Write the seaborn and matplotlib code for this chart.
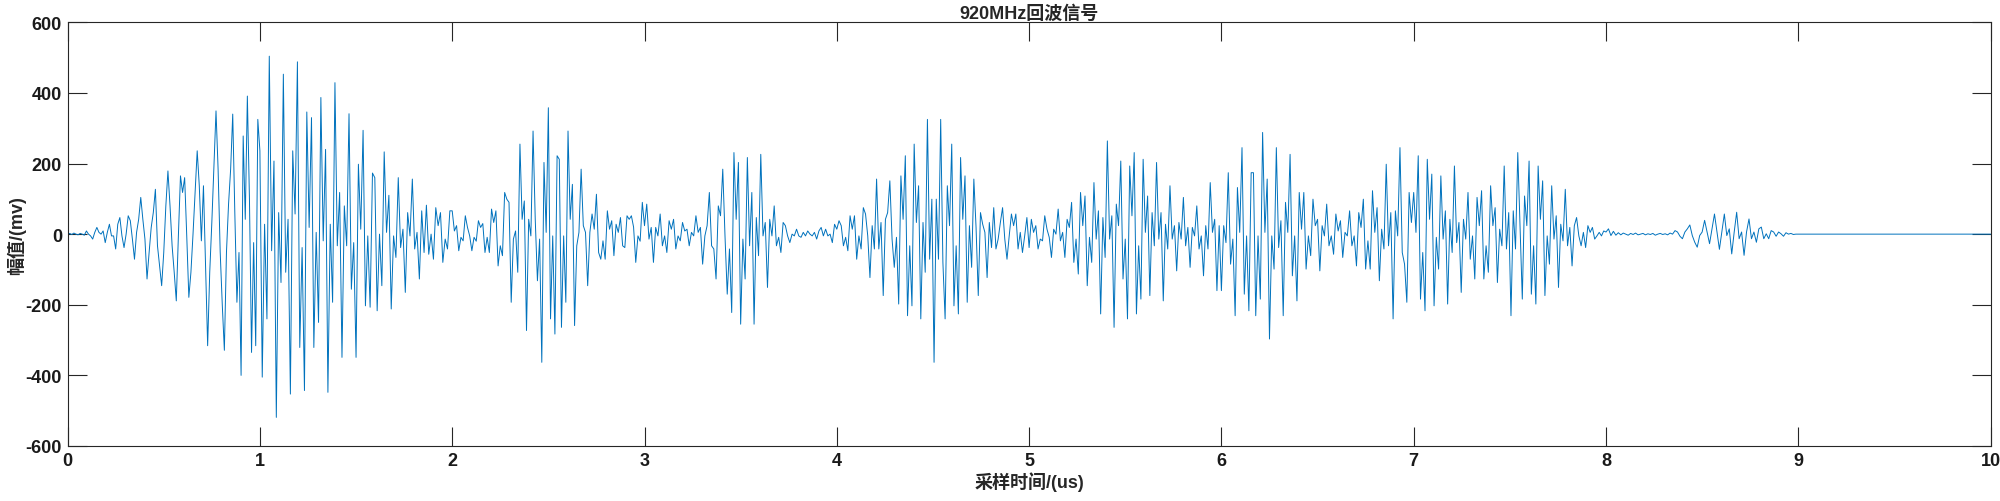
# plot.py
# 920MHz echo signal, redrawn from a MATLAB figure

import numpy as np
import pandas as pd
from matplotlib import pyplot as plt
import seaborn as sns

# samples, one list per microsecond (mV)
seg0 = [0, 2, -1, 3, 0, -2, 2, 0, -3, 9, 0, -5, -14, 5, 19, 5, 0, 9, -24, 5, 28, -5, -5, -42, 28, 47, -5, -38, 0,
        52, 38, -14, -71, 5, 42, 104, 42, -14, -127, -52, 19, 61, 127, -33, -90, -146, -52, 80, 179, 80, -33, -108,
        -189, -5, 165, 118, 160, -5, -179, -108, 0, 118, 236, 137, -19, 137, -90, -316, -108, 33, 193, 349, 184, -50,
        -200, -329, -52, 85, 184, 340, 60, -193, -52, -400, 278, 42, 391, 100, -335, -24, -316, 325]
seg1 = [236, -405, 28, -240, 504, -47, 207, -519, 61, -137, 453, -108, 42, -453, 236, 57, 488, -321, -38, -443, 346,
        19, 330, -321, 5, -250, 387, -19, 240, -448, 28, -193, 429, -33, 118, -349, 80, -33, 341, -156, -24, -349,
        198, 14, 294, -203, -5, -207, 173, 160, -217, 0, -146, 233, 5, 110, -212, -5, -66, 160, -38, 14, -165, 61,
        -5, 156, -42, 5, -127, 66, -52, 82, -57, 0, -71, 75, 24, 61, -80, -14, -42, 66]
seg2 = [66, 9, 24, -47, -9, -19, 52, 19, -5, -47, -9, -20, 38, 19, 30, -52, -9, -52, 71, 33, 66, -90, -33, -61, 118,
        99, 90, -193, -14, 9, -108, 255, 42, 94, -273, 42, -5, 292, 42, -132, -14, -363, 203, 5, 358, -240, -5, -283,
        222, 212, -264, -5, -193, 292, 42, 141, -259, -33, 5, 184, 24, 5, -146, 5, 57, 14, 113, -52, -71, -19, -71,
        66, 14, 38, -61, 28, 5, 47, -33, -38, 52, 42, 52, 20, -80, -5, -20, 90]
seg3 = [24, 85, -14, 19, -80, 19, -5, 57, -33, -5, -52, 38, 14, 42, -42, -5, -19, 33, 9, 14, -33, 5, -5, 52, 5, 19,
        -85, -5, 24, 118, -33, -42, -127, 80, 52, 184, -5, -170, -42, -222, 231, 42, 203, -255, -14, -127, 217, -33,
        118, -255, 47, -61, 226, -5, 33, -151, 42, -5, 80, -33, -9, -52, 33, 24, -5, -24, 0, -5, 14, -5, -9, 5, -5,
        9, 0, -5, 5, -14, 9, 19, -5, 14, -5, 0, -24, 28]
seg4 = [14, 38, 24, -33, -9, -47, 52, 14, 52, -71, -5, -42, 75, 57, -5, -123, 24, -42, 156, -42, 33, -174, 42, 61,
        151, -14, -94, -9, -198, 165, 42, 222, -231, -33, -203, 255, 33, 137, -240, 33, -108, 325, -71, 99, -363, 99,
        -71, 325, -80, -240, 137, 24, 255, -203, -33, -226, 217, 42, 165, -193, 24, -94, 156, 19, -174, 61, 28, 5,
        -123, 33, -38, 75, -42, -14, 33, 75, -14, -71, -5, 57, 24, 57, -42, 5, -52, -5, 47]
seg5 = [-38, 42, 5, 24, -42, -14, -19, 52, 14, -9, -66, 14, 0, 71, -19, 5, -66, 42, 19, 90, -80, -14, -113, 118, 24,
        108, -146, -9, -80, 146, -14, 66, -226, 47, -66, 264, -14, 52, -264, 85, 24, 207, -127, -14, -240, 193, 52,
        231, -226, -33, -184, 212, 5, 108, -174, 61, -33, 203, -14, 61, -189, 28, -42, 137, -14, 24, -104, 33, -14,
        104, -33, 19, -94, 19, -5, 80, -42, -5, -118, 24, -42, 146, 5, 42, -160, 24]
seg6 = [-160, 24, -24, 174, -85, -14, -231, 132, 5, 245, -170, -5, -217, 174, 174, -231, -5, -184, 288, 5, 156, -297,
        -5, -99, 245, -38, 38, -231, 90, 5, 226, -118, -5, -189, 118, 14, 118, -99, -5, -61, 99, 24, 42, -104, 24,
        -5, 85, -33, -5, -57, 57, 9, 38, -66, 5, -5, 66, -33, -5, -90, 61, 19, 99, -99, -19, -99, 123, 5, 75, -132,
        14, -42, 198, -33, 61, -240, 66, -5, 245, -52, -85, -193, 118, 33]
seg7 = [118, 5, 222, -184, -52, -217, 212, 42, 170, -203, -9, -99, 165, -14, 66, -198, 42, -52, 193, -24, 33, -165,
        42, -14, 118, -71, -5, -127, 104, 24, 123, -127, -33, -108, 137, 24, 75, -137, 14, -33, 193, -42, 61, -231,
        66, -42, 231, 24, -184, 108, 24, 207, -170, -33, -198, 193, 42, 151, -174, -5, -85, 137, -14, 52, -151, 28,
        -19, 127, -33, 19, -90, 24, 47, -5, -33, 5, -38, 24, 5, 19, -14, -5, 5, -5, 9]
seg8 = [6, 15, -4, 8, -3, 4, -2, 3, 0, -3, 2, -1, 3, -2, 0, 2, -2, 1, -1, 2, -3, 0, 2, -1, 1, -2, 3, 0, 10, 6, -6,
        -13, 6, 15, 26, -4, -23, -37, -4, 6, 39, 6, -27, 15, 57, 6, -43, 6, 57, -4, 15, -56, 6, 62, -13, 6, -60, 6,
        43, -13, 6, -23, 15, 20, -13, 1, -13, 10, 6, -6, 6, 1, -6, 4, 0, 2, -1, 0]
seg9 = [0, 0]

segments = [seg0, seg1, seg2, seg3, seg4, seg5, seg6, seg7, seg8, seg9]

x_ticks = list(range(0, 11))
y_ticks = list(range(-600, 601, 200))

title = '920MHz回波信号'
x_label = '采样时间/(us)'
y_label = '幅值/(mv)'

# global settings
sns.set_theme(style="ticks")
plt.rcParams['font.family'] = ['Liberation Sans', 'Noto Sans CJK SC', 'DejaVu Sans']
plt.rcParams['font.weight'] = 'bold'
plt.rcParams['axes.unicode_minus'] = False


def build_frame(segments):
    parts = []
    for k, seg in enumerate(segments):
        if k == len(segments) - 1:
            t = np.linspace(k, k + 1, len(seg))
        else:
            t = k + np.arange(len(seg)) / len(seg)
        parts.append(pd.DataFrame({'t': t, 'v': seg}))
    return pd.concat(parts, ignore_index=True)


def plot_signal(data):
    fig = plt.figure(figsize=(20, 5.02), dpi=100)
    ax = fig.add_axes([0.0338, 0.1096, 0.9615, 0.8440])

    sns.lineplot(data=data, x='t', y='v', ax=ax,
                 estimator=None, sort=False,
                 color='#0072BD', linewidth=0.7)

    ax.set_xlim(0, 10)
    ax.set_ylim(-600, 600)
    ax.set_xticks(x_ticks)
    ax.set_yticks(y_ticks)

    for side in ['top', 'right', 'bottom', 'left']:
        ax.spines[side].set_visible(True)
        ax.spines[side].set_color('#262626')
        ax.spines[side].set_linewidth(0.8)
    ax.tick_params(direction='in', length=13.8, width=0.8, color='#262626',
                   top=True, right=True, labelsize=13, labelcolor='#1a1a1a', pad=4)
    for lab in ax.get_xticklabels() + ax.get_yticklabels():
        lab.set_fontweight('bold')

    ax.set_title(title, fontsize=13, fontweight='bold', pad=3)
    ax.set_xlabel(x_label, fontsize=13, fontweight='bold', labelpad=2)
    ax.set_ylabel(y_label, fontsize=13, fontweight='bold', labelpad=0)
    return fig


if __name__ == '__main__':
    df = build_frame(segments)
    fig = plot_signal(df)
    fig.savefig('out.png', dpi=100)
